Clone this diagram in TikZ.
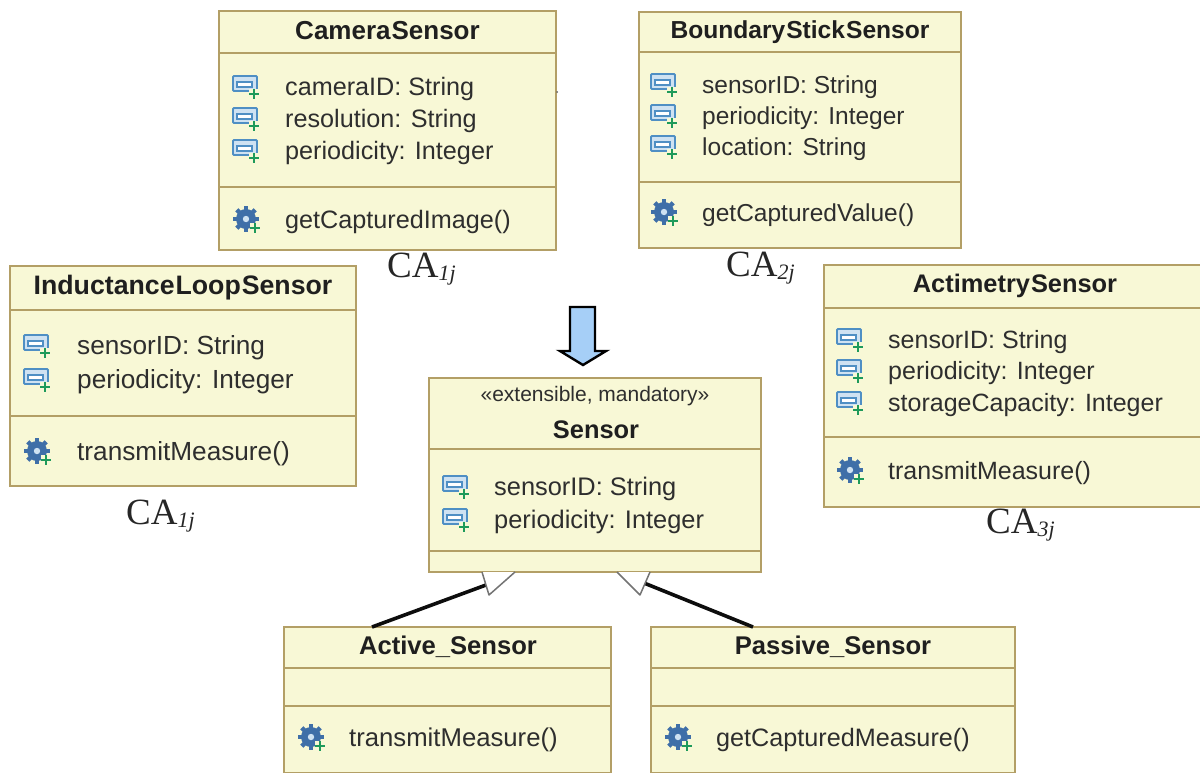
\documentclass[tikz,border=0pt]{standalone}
\usepackage{fontspec}
\setmainfont{Liberation Sans}
\newfontfamily\caserif{Liberation Serif}
\usetikzlibrary{arrows.meta}
\definecolor{umlfill}{HTML}{F8F8D6}
\definecolor{umlline}{HTML}{B39F66}
\definecolor{umltext}{HTML}{2E2E2E}
\definecolor{iconblue}{HTML}{4F8FC4}
\definecolor{iconlight}{HTML}{CFE2F2}
\definecolor{icongreen}{HTML}{1E9A5A}
\definecolor{gearblue}{HTML}{3F6FA8}
\definecolor{arrowblue}{HTML}{A6CFF7}
\newcommand{\memsize}{25.2}
\newcommand{\titsize}{26}
\tikzset{
  x=1pt,y=-1pt,
  umlbox/.style={draw=umlline,fill=umlfill,line width=2pt,anchor=north west,inner sep=0pt,outer sep=0pt},
  sepline/.style={draw=umlline,line width=2pt},
  titletext/.style={font=\fontsize{\titsize}{\titsize}\selectfont\bfseries,text=black!88,anchor=base,inner sep=0pt},
  stereotext/.style={font=\fontsize{21}{21}\selectfont,text=umltext,anchor=base,inner sep=0pt},
  membertext/.style={font=\fontsize{\memsize}{\memsize}\selectfont,text=umltext,anchor=base west,inner sep=0pt},
  calabel/.style={font=\caserif\fontsize{37}{37}\selectfont,text=black!85,anchor=base west,inner sep=0pt},
  gentri/.style={draw=black!55,fill=white,line width=1.5pt,line join=round},
  genline/.style={draw=black!95,line width=3.6pt},
}
% name, x1, y1, x2, y2, sep1, sep2
\newcommand{\umlclass}[7]{%
  \node[umlbox,minimum width=#4pt-#2pt,minimum height=#5pt-#3pt] (#1) at (#2,#3) {};
  \draw[sepline] (#1.west |- 0,#6) -- (#1.east |- 0,#6);
  \draw[sepline] (#1.west |- 0,#7) -- (#1.east |- 0,#7);
}
\newcommand{\attricon}[2]{%
  \begin{scope}[shift={(#1,#2)}]
    \draw[iconblue,fill=iconlight,line width=1.8pt,rounded corners=1pt] (-13,-10) rectangle (11,5);
    \draw[iconblue,fill=white,line width=1.6pt] (-9,-4) -- (6,-4) -- (6,1) -- (-9,1) -- cycle;
    \fill[umlfill] (3,3) rectangle (15,11);
    \draw[icongreen,line width=1.8pt] (3,8) -- (13,8) (8,3) -- (8,13);
  \end{scope}}
\newcommand{\gearicon}[2]{%
  \begin{scope}[shift={(#1,#2)}]
    \foreach \a in {0,45,...,315} \draw[gearblue,line width=4.5pt] (\a:5) -- (\a:13);
    \fill[gearblue] (0,0) circle (10);
    \fill[iconlight] (0,0) circle (3.2);
    \fill[umlfill] (4,4) rectangle (15,15);
    \draw[icongreen,line width=1.8pt] (4,9) -- (14,9) (9,4) -- (9,14);
  \end{scope}}
\newcommand{\memberA}[5]{\attricon{#2}{#3-9}\node[membertext] (#1) at (#4,#3) {#5};}
\newcommand{\memberO}[5]{\gearicon{#2}{#3-9}\node[membertext] (#1) at (#4,#3) {#5};}
\newcommand{\calab}[4]{\node[calabel] (#1) at (#2,#3) {CA{\fontsize{22}{22}\selectfont\itshape\raisebox{-3pt}{#4}}};}
\begin{document}
\begin{tikzpicture}
\useasboundingbox (0,0) rectangle (1200,772);
\fill[white] (0,0) rectangle (1200,772);

% CameraSensor
\umlclass{camera}{219}{11}{556}{250}{53}{187}
\node[titletext] (cameraT) at (387.5,39) {Camera\kern1pt Sensor};
\memberA{c1}{246}{95}{285}{cameraID: String}
\memberA{c2}{246}{127}{285}{resolution: String}
\memberA{c3}{246}{159}{285}{periodicity: Integer}
\memberO{c4}{246}{228}{285}{getCapturedImage()}
\fill[black!60] (557,92) circle (1);

% BoundaryStickSensor
\renewcommand{\memsize}{24.5}\renewcommand{\titsize}{24.6}
\umlclass{boundary}{639}{12}{961}{248}{52}{182}
\node[titletext] (boundaryT) at (800,38) {Boundary\kern1pt Stick\kern1pt Sensor};
\memberA{b1}{664}{93}{702}{sensorID: String}
\memberA{b2}{664}{124}{702}{periodicity: Integer}
\memberA{b3}{664}{155}{702}{location: String}
\memberO{b4}{664}{221}{702}{getCapturedValue()}

% InductanceLoopSensor
\renewcommand{\memsize}{26.2}\renewcommand{\titsize}{26.7}
\umlclass{loop}{10}{266}{356}{486}{310}{416}
\node[titletext] (loopT) at (183,294) {Inductance\kern1pt Loop\kern1pt Sensor};
\memberA{l1}{37}{354}{77}{sensorID: String}
\memberA{l2}{37}{388}{77}{periodicity: Integer}
\memberO{l3}{37}{460}{77}{transmitMeasure()}

% ActimetrySensor
\renewcommand{\memsize}{25}\renewcommand{\titsize}{25.4}
\umlclass{acti}{824}{265}{1201}{507}{308}{437}
\node[titletext] (actiT) at (1015,292) {Actimetry\kern1pt Sensor};
\memberA{a1}{850}{348}{888}{sensorID: String}
\memberA{a2}{850}{379}{888}{periodicity: Integer}
\memberA{a3}{850}{411}{888}{storageCapacity: Integer}
\memberO{a4}{850}{479}{888}{transmitMeasure()}

% Sensor
\renewcommand{\memsize}{25.4}\renewcommand{\titsize}{25.4}
\umlclass{sensor}{429}{378}{761}{572}{449}{551}
\node[stereotext] (sensorS) at (595,401) {«extensible, mandatory»};
\node[titletext] (sensorT) at (596,438) {Sensor};
\memberA{s1}{456}{495}{494}{sensorID: String}
\memberA{s2}{456}{528}{494}{periodicity: Integer}

% Active_Sensor
\renewcommand{\memsize}{25.7}\renewcommand{\titsize}{25.6}
\umlclass{active}{284}{627}{611}{773}{668}{706}
\node[titletext] (activeT) at (448,654) {Active\_Sensor};
\memberO{ac1}{311}{746}{349}{transmitMeasure()}

% Passive_Sensor
\renewcommand{\memsize}{25.2}\renewcommand{\titsize}{25.6}
\umlclass{passive}{651}{627}{1015}{773}{668}{706}
\node[titletext] (passiveT) at (833,654) {Passive\_Sensor};
\memberO{pa1}{678}{746}{716}{getCapturedMeasure()}

% CA labels
\calab{ca1}{387}{277}{1j}
\calab{ca2}{726}{276}{2j}
\calab{ca3}{126}{524}{1j}
\calab{ca4}{986}{533}{3j}

% transformation arrow
\draw[fill=arrowblue,draw=black,line width=2.4pt,line join=miter]
  (570,307) -- (595,307) -- (595,351) -- (606,351) -- (583,365) -- (560,351) -- (570,351) -- cycle;

% generalisations
\coordinate (actStart) at ([xshift=88pt]active.north west);
\coordinate (pasStart) at ([xshift=102pt]passive.north west);
\coordinate (senL) at ([xshift=53pt]sensor.south west);
\coordinate (senLb) at ([xshift=86pt]sensor.south west);
\coordinate (senR) at ([xshift=188pt]sensor.south west);
\coordinate (senRb) at ([xshift=221pt]sensor.south west);
\draw[genline] (actStart) -- (486,585);
\draw[genline] (pasStart) -- (644,583);
\draw[gentri] (senL) -- (489,595) -- (senLb);
\draw[gentri] (senR) -- (640,595) -- (senRb);
\end{tikzpicture}
\end{document}
